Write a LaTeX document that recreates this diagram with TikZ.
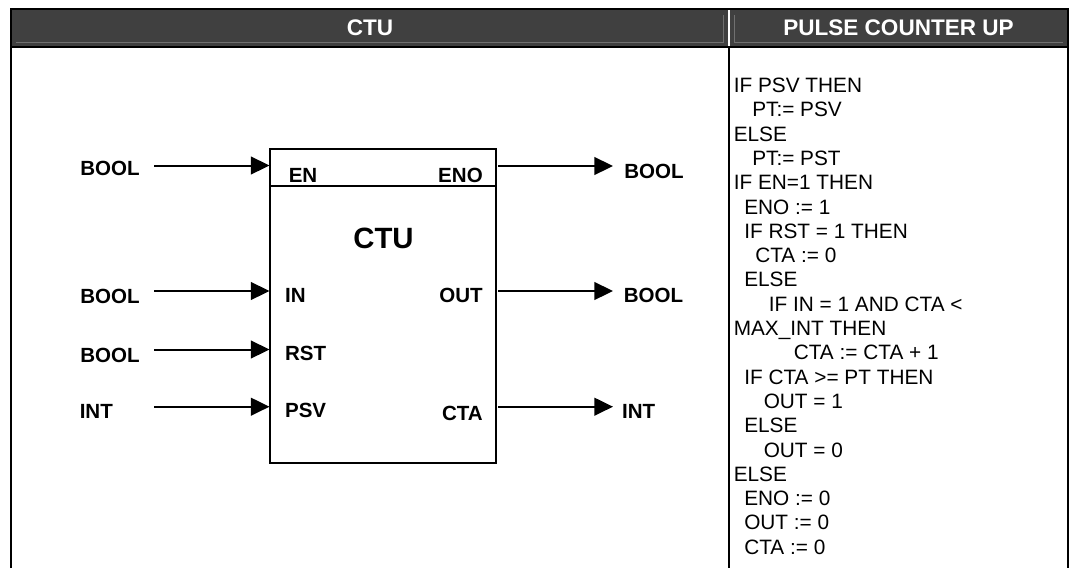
\documentclass[tikz,border=0pt]{standalone}
\usepackage{fontspec}
\setmainfont{Liberation Sans}
\usepackage{xcolor}
\usepackage{tikz}
\usetikzlibrary{
arrows.meta,
positioning,
calc
}
\definecolor{hdrgray}{HTML}{404040}
\definecolor{hdrbevel}{HTML}{707070}

\begin{document}
\begin{tikzpicture}[
  x=0.75pt, y=-0.75pt,
  >={Triangle[length=13.9pt, width=13.2pt]},
  frame/.style={line width=1.5pt, black},
  hdrtext/.style={font=\fontsize{16.9pt}{20pt}\selectfont\bfseries, text=white, inner sep=0pt},
  fblock/.style={draw, line width=1.6pt, minimum width=169.5pt, minimum height=235pt, inner sep=0pt, outer sep=0pt},
  sig/.style={line width=1.5pt, ->},
  typelbl/.style={font=\fontsize{15.4pt}{18pt}\selectfont\bfseries, inner sep=0pt, anchor=west},
  pinlbl/.style={font=\fontsize{15.4pt}{18pt}\selectfont\bfseries, inner sep=0pt},
  code/.style={font=\fontsize{15.6pt}{18.2pt}\selectfont, inner sep=0pt, anchor=base west}
]
\useasboundingbox (0,0) rectangle (1073,568);

% Header row
\fill[hdrgray] (11,9) rectangle (1068,47);
\draw[white, line width=1.5pt] (729,10) -- (729,46);
\draw[hdrbevel, line width=0.75pt] (16,42) -- (723,42) -- (723,15);
\draw[hdrbevel, line width=0.75pt] (734,15) -- (734,42) -- (1063,42);
\node[hdrtext] (hleft) at (370,28) {CTU};
\node[hdrtext] (hright) at (898.5,28) {PULSE COUNTER UP};

% Table frame
\draw[frame] (11,568) -- (11,9) -- (1068,9) -- (1068,568);
\draw[frame] (11,47) -- (1068,47);
\draw[frame] (729,47) -- (729,568);

% Function block
\node[fblock] (blk) at (383,306) {};
\coordinate (sep) at (0,186);
\draw[line width=1.6pt] (blk.west |- sep) -- (blk.east |- sep);
\node[font=\fontsize{22pt}{26pt}\selectfont\bfseries, inner sep=0pt] (title) at (383.5,238) {CTU};

% Pin names
\node[pinlbl, anchor=west] (nEN) at (288.5,175) {EN};
\node[pinlbl, anchor=west] (nIN) at (284.8,295) {IN};
\node[pinlbl, anchor=west] (nRST) at (284.8,353) {RST};
\node[pinlbl, anchor=west] (nPSV) at (284.8,410.7) {PSV};
\node[pinlbl, anchor=east] (nENO) at (483,175) {ENO};
\node[pinlbl, anchor=east] (nOUT) at (483,295) {OUT};
\node[pinlbl, anchor=east] (nCTA) at (483,413) {CTA};

% Pin points on the block
\coordinate (pEN) at (269.5,165.5);
\coordinate (pIN) at (269.5,291);
\coordinate (pRST) at (269.5,349.5);
\coordinate (pPSV) at (269.5,406.7);
\coordinate (pENO) at (498,166);
\coordinate (pOUT) at (498,291);
\coordinate (pCTA) at (498,406.7);
\coordinate (inx) at (154,0);
\coordinate (outx) at (613,0);

% Inputs
\node[typelbl] (tEN) at (80,168) {BOOL};
\node[typelbl] (tIN) at (80,296.7) {BOOL};
\node[typelbl] (tRST) at (80,355) {BOOL};
\node[typelbl] (tPSV) at (79.5,411.7) {INT};
\draw[sig] (inx |- pEN) -- (pEN);
\draw[sig] (inx |- pIN) -- (pIN);
\draw[sig] (inx |- pRST) -- (pRST);
\draw[sig] (inx |- pPSV) -- (pPSV);

% Outputs
\node[typelbl] (tENO) at (624,171.7) {BOOL};
\node[typelbl] (tOUT) at (623.5,295) {BOOL};
\node[typelbl] (tCTA) at (621.8,411.7) {INT};
\draw[sig] (pENO) -- (outx |- pENO);
\draw[sig] (pOUT) -- (outx |- pOUT);
\draw[sig] (pCTA) -- (outx |- pCTA);

% Description
\node[code] (c1) at (733.5,92.5) {IF PSV THEN};
\node[code] (c2) at (752,116.8) {PT:= PSV};
\node[code] (c3) at (733.5,141.1) {ELSE};
\node[code] (c4) at (752,165.4) {PT:= PST};
\node[code] (c5) at (733.5,189.7) {IF EN=1 THEN};
\node[code] (c6) at (744,214) {ENO := 1};
\node[code] (c7) at (744,238.3) {IF RST = 1 THEN};
\node[code] (c8) at (755,262.6) {CTA := 0};
\node[code] (c9) at (744,286.9) {ELSE};
\node[code] (c10) at (768.5,311.2) {IF IN = 1 AND CTA <};
\node[code] (c11) at (733.5,335.5) {MAX\_INT THEN};
\node[code] (c12) at (793.5,359.8) {CTA := CTA + 1};
\node[code] (c13) at (744,384.1) {IF CTA >= PT THEN};
\node[code] (c14) at (763.5,408.4) {OUT = 1};
\node[code] (c15) at (744,432.7) {ELSE};
\node[code] (c16) at (763.5,457) {OUT = 0};
\node[code] (c17) at (733.5,481.3) {ELSE};
\node[code] (c18) at (744,505.6) {ENO := 0};
\node[code] (c19) at (744,529.9) {OUT := 0};
\node[code] (c20) at (744,554.2) {CTA := 0};

\end{tikzpicture}
\end{document}
